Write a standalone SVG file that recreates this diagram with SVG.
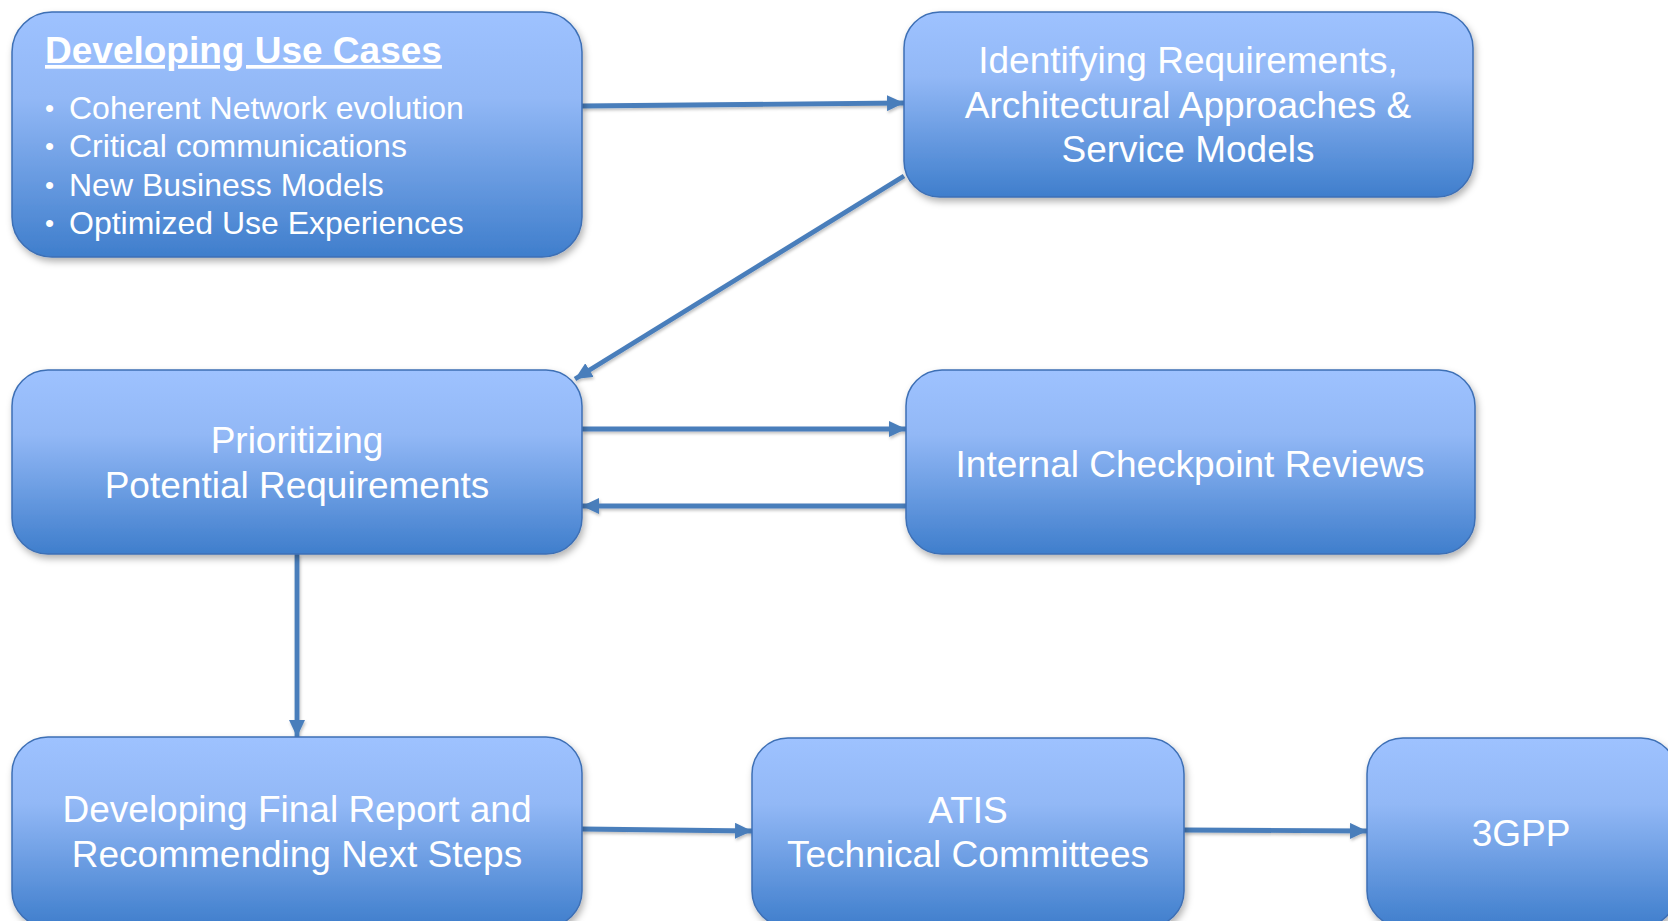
<svg xmlns="http://www.w3.org/2000/svg" width="1668" height="921" viewBox="0 0 1668 921">
<defs>
<linearGradient id="g" x1="0" y1="0" x2="0" y2="1">
<stop offset="0" stop-color="#9ec2ff"/>
<stop offset="0.35" stop-color="#92b8f6"/>
<stop offset="1" stop-color="#3f7ecc"/>
</linearGradient>
<filter id="sh" x="-10%" y="-10%" width="120%" height="130%">
<feDropShadow dx="2" dy="4" stdDeviation="3.5" flood-color="#000" flood-opacity="0.3"/>
</filter>
<filter id="lsh" x="-10%" y="-50%" width="120%" height="200%">
<feDropShadow dx="1" dy="2" stdDeviation="1.5" flood-color="#000" flood-opacity="0.25"/>
</filter>
<marker id="ah" markerUnits="userSpaceOnUse" markerWidth="18" markerHeight="16" refX="17" refY="8" orient="auto">
<path d="M0,0 L17,8 L0,16 Z" fill="#4a7ebb"/>
</marker>
</defs>
<style>
.box{fill:url(#g);stroke:#3d6fb5;stroke-width:1.5;filter:url(#sh)}
.t{font-family:"Liberation Sans",Arial,sans-serif;font-size:37px;fill:#fff;text-anchor:middle}
.b{font-family:"Liberation Sans",Arial,sans-serif;font-size:32px;fill:#fff}
.d{font-family:"Liberation Sans",Arial,sans-serif;font-size:26px;fill:#fff}
.c{stroke:#4a7ebb;stroke-width:4.8;fill:none;marker-end:url(#ah)}
</style>
<rect width="1668" height="921" fill="#fff"/>
<g id="connectors" filter="url(#lsh)">
<line class="c" x1="582" y1="106" x2="904" y2="103"/>
<line class="c" x1="904" y1="176" x2="575" y2="379"/>
<line class="c" x1="582" y1="429" x2="906" y2="429"/>
<line class="c" x1="906" y1="506" x2="582" y2="506"/>
<line class="c" x1="297" y1="554" x2="297" y2="737"/>
<line class="c" x1="582" y1="829" x2="752" y2="831"/>
<line class="c" x1="1184" y1="830" x2="1367" y2="831"/>
</g>
<g id="n1">
<rect class="box" x="12" y="12" width="570" height="245" rx="40"/>
<text x="45" y="63" font-family="Liberation Sans,Arial,sans-serif" font-size="37" font-weight="bold" fill="#fff" text-decoration="underline">Developing Use Cases</text>
<text class="d" x="45" y="117">•</text><text class="b" x="69" y="119">Coherent Network evolution</text>
<text class="d" x="45" y="155">•</text><text class="b" x="69" y="157">Critical communications</text>
<text class="d" x="45" y="194">•</text><text class="b" x="69" y="196">New Business Models</text>
<text class="d" x="45" y="232">•</text><text class="b" x="69" y="234">Optimized Use Experiences</text>
</g>
<g id="n2">
<rect class="box" x="904" y="12" width="569" height="185" rx="36"/>
<text class="t" x="1188" y="73">Identifying Requirements,</text>
<text class="t" x="1188" y="118">Architectural Approaches &amp;</text>
<text class="t" x="1188" y="162">Service Models</text>
</g>
<g id="n3">
<rect class="box" x="12" y="370" width="570" height="184" rx="36"/>
<text class="t" x="297" y="453">Prioritizing</text>
<text class="t" x="297" y="498">Potential Requirements</text>
</g>
<g id="n4">
<rect class="box" x="906" y="370" width="569" height="184" rx="36"/>
<text class="t" x="1190" y="477">Internal Checkpoint Reviews</text>
</g>
<g id="n5">
<rect class="box" x="12" y="737" width="570" height="190" rx="36"/>
<text class="t" x="297" y="822">Developing Final Report and</text>
<text class="t" x="297" y="867">Recommending Next Steps</text>
</g>
<g id="n6">
<rect class="box" x="752" y="738" width="432" height="189" rx="36"/>
<text class="t" x="968" y="823">ATIS</text>
<text class="t" x="968" y="867">Technical Committees</text>
</g>
<g id="n7">
<rect class="box" x="1367" y="738" width="310" height="189" rx="36"/>
<text class="t" x="1521" y="846">3GPP</text>
</g>
</svg>
